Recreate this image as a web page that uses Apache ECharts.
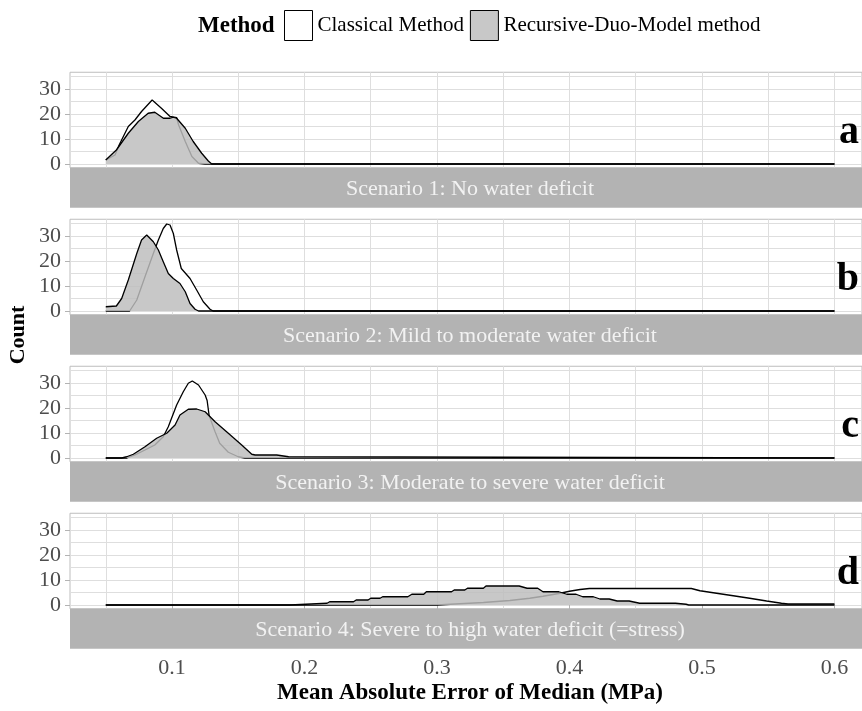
<!DOCTYPE html>
<html>
<head>
<meta charset="utf-8">
<script src="https://cdn.jsdelivr.net/npm/echarts@6/dist/echarts.min.js"></script>
<style>
html,body{margin:0;padding:0;background:#fff;}
#chart{width:862px;height:711px;}
</style>
</head>
<body>
<div id="chart"></div>
<script>
// ---------- data ----------
const methods = ['Classical Method', 'Recursive-Duo-Model method'];
const scenarios = [
  'Scenario 1: No water deficit',
  'Scenario 2: Mild to moderate water deficit',
  'Scenario 3: Moderate to severe water deficit',
  'Scenario 4: Severe to high water deficit (=stress)'
];
const panelLetters = ['a', 'b', 'c', 'd'];
const xTickValues = [0.1, 0.2, 0.3, 0.4, 0.5, 0.6];
const xGridValues = [0.05, 0.1, 0.15, 0.2, 0.25, 0.3, 0.35, 0.4, 0.45, 0.5, 0.55, 0.6];
const yTickValues = [0, 10, 20, 30];
const yGridValues = [0, 5, 10, 15, 20, 25, 30, 35];

// Scenario 1
const classical1 = [[0.05,1.6],[0.057,3.6],[0.06,7.5],[0.067,15],[0.072,17.6],[0.077,21],[0.085,25.6],[0.092,22.3],[0.0985,19],[0.1035,18.5],[0.105,15.6],[0.11,9],[0.115,3],[0.12,0.3],[0.125,0],[0.6,0]];
const recursive1 = [[0.05,1.6],[0.058,5.6],[0.067,12.3],[0.0746,17],[0.082,20.3],[0.087,20.7],[0.0935,18.3],[0.0985,18.3],[0.101,18.7],[0.1035,18.3],[0.11,14.3],[0.116,9],[0.1224,4.3],[0.1274,1.2],[0.13,0],[0.6,0]];
// Scenario 2
const classical2 = [[0.05,0],[0.068,0],[0.0734,4.4],[0.0796,13.7],[0.0859,23],[0.0897,28.4],[0.0934,33],[0.096,34.8],[0.0985,34.4],[0.101,31],[0.1035,24.4],[0.107,17],[0.1136,13],[0.1186,8.4],[0.1236,3.7],[0.1287,0.7],[0.131,0],[0.6,0]];
const recursive2 = [[0.05,1.7],[0.058,2],[0.062,5],[0.067,12.4],[0.0734,23],[0.077,28.4],[0.0809,30.4],[0.0859,27.7],[0.0897,24.4],[0.0934,19.7],[0.0972,15],[0.101,13],[0.106,11],[0.11,7.7],[0.1136,3],[0.1174,0.7],[0.12,0],[0.6,0]];
// Scenario 3
const classical3 = [[0.05,0],[0.066,0],[0.072,1.2],[0.0796,3.2],[0.087,5.2],[0.0934,8.5],[0.0972,12.5],[0.1035,21.2],[0.1085,26.5],[0.1123,29.9],[0.1153,30.8],[0.12,29.2],[0.125,25.2],[0.1265,23],[0.128,17],[0.1325,10.5],[0.136,5.9],[0.1425,2.3],[0.15,0.5],[0.155,0],[0.6,0]];
const recursive3 = [[0.05,0],[0.062,0],[0.0658,0.5],[0.0708,1.5],[0.0796,4.5],[0.0884,7.9],[0.096,9.9],[0.1023,13.2],[0.106,17.2],[0.1123,19.5],[0.1186,19.6],[0.125,18.5],[0.1325,14.5],[0.1425,9.9],[0.1526,5.2],[0.1602,1.5],[0.1627,1.2],[0.179,1.2],[0.18,0.5],[0.188,0.5],[0.189,0],[0.6,0]];
// Scenario 4
const classical4 = [[0.05,0],[0.3,0],[0.31,0.3],[0.335,1],[0.355,1.8],[0.37,2.7],[0.38,3.5],[0.393,4.7],[0.4,5.5],[0.408,6.2],[0.415,6.6],[0.492,6.6],[0.4985,5.7],[0.511,4.7],[0.5236,3.7],[0.536,2.7],[0.5488,1.6],[0.56,0.7],[0.565,0.4],[0.6,0.4]];
const recursive4 = [[0.05,0],[0.189,0],[0.19,0.7],[0.217,0.7],[0.219,1.3],[0.237,1.3],[0.239,2],[0.248,2],[0.25,2.7],[0.257,2.7],[0.259,3.3],[0.278,3.3],[0.281,4.3],[0.29,4.3],[0.292,5.3],[0.311,5.3],[0.313,6],[0.321,6],[0.323,6.7],[0.335,6.7],[0.337,7.6],[0.362,7.6],[0.368,6.7],[0.376,6.7],[0.38,5.3],[0.392,5.3],[0.398,4.3],[0.405,4.3],[0.41,3.3],[0.418,3.3],[0.423,2.4],[0.43,2.4],[0.436,1.6],[0.445,1.6],[0.453,0.7],[0.48,0.7],[0.488,0.3],[0.49,0],[0.6,0]];

const classicalSets = [classical1, classical2, classical3, classical4];
const recursiveSets = [recursive1, recursive2, recursive3, recursive4];

// ---------- layout / style ----------
const SERIF = "'Liberation Serif', 'DejaVu Serif', serif";
const GRID_LEFT = 70, GRID_W = 792, PANEL_H = 95.5, STRIP_H = 40, FIRST_TOP = 72.25, STEP = 147;
const X_MIN = 0.023, X_MAX = 0.6208, Y_MIN = -1.5, Y_MAX = 36.7;

const grids = [], xAxes = [], yAxes = [], series = [], graphics = [];
for (let i = 0; i < 4; i++) {
  const top = FIRST_TOP + i * STEP;
  const last = i === 3;
  grids.push({left: GRID_LEFT, top: top, width: GRID_W, height: PANEL_H, show: true,
    containLabel: false, outerBoundsMode: 'none',
    backgroundColor: '#ffffff', borderColor: '#bdbdbd', borderWidth: 1});
  // grid-line axis
  xAxes.push({gridIndex: i, type: 'value', min: X_MIN, max: X_MAX, position: 'bottom',
    axisLine: {show: false}, axisLabel: {show: false},
    axisTick: {show: false, customValues: xGridValues},
    splitLine: {show: true, lineStyle: {color: '#dedede', width: 1}}});
  // label axis
  xAxes.push({gridIndex: i, type: 'value', min: X_MIN, max: X_MAX, position: 'bottom', offset: last ? STRIP_H : 0,
    axisLine: {show: false},
    axisTick: {show: last, customValues: xTickValues, length: 5, lineStyle: {color: '#b3b3b3', width: 1}},
    axisLabel: {show: last, customValues: xTickValues, margin: 8, color: '#4d4d4d', fontSize: 22, fontFamily: SERIF},
    splitLine: {show: false}});
  yAxes.push({gridIndex: i, type: 'value', min: Y_MIN, max: Y_MAX, position: 'left',
    axisLine: {show: false}, axisLabel: {show: false},
    axisTick: {show: false, customValues: yGridValues},
    splitLine: {show: true, lineStyle: {color: '#dedede', width: 1}}});
  yAxes.push({gridIndex: i, type: 'value', min: Y_MIN, max: Y_MAX, position: 'left', offset: 0,
    axisLine: {show: false},
    axisTick: {show: true, customValues: yTickValues, length: 5, lineStyle: {color: '#b3b3b3', width: 1}},
    axisLabel: {show: true, customValues: yTickValues, margin: 9, color: '#4d4d4d', fontSize: 22, fontFamily: SERIF},
    splitLine: {show: false}});

  series.push({name: methods[0], type: 'line', xAxisIndex: 2 * i, yAxisIndex: 2 * i, z: 2,
    data: classicalSets[i], symbol: 'none', smooth: false, silent: true,
    lineStyle: {color: '#000000', width: 1.3},
    itemStyle: {color: '#ffffff', borderColor: '#000000'},
    areaStyle: {color: '#ffffff', opacity: 1}});
  series.push({name: methods[1], type: 'line', xAxisIndex: 2 * i, yAxisIndex: 2 * i, z: 3,
    data: recursiveSets[i], symbol: 'none', smooth: false, silent: true,
    lineStyle: {color: '#000000', width: 1.3},
    itemStyle: {color: '#c8c8c8', borderColor: '#000000'},
    areaStyle: {color: 'rgba(190,190,190,0.84)', opacity: 1}});

  // strip
  const stripTop = top + PANEL_H;
  graphics.push({type: 'rect', z: 10, shape: {x: GRID_LEFT, y: stripTop, width: GRID_W, height: STRIP_H},
    style: {fill: '#b3b3b3'}});
  graphics.push({type: 'text', z: 11, x: 470, y: stripTop + STRIP_H / 2 + 1,
    style: {text: scenarios[i], fill: '#f2f2f2', font: '22px ' + SERIF, align: 'center', verticalAlign: 'middle'}});
  // panel letter
  graphics.push({type: 'text', z: 11, x: 859, y: top + 40,
    style: {text: panelLetters[i], fill: '#000', font: 'bold 40px ' + SERIF, align: 'right', verticalAlign: 'alphabetic'}});
}

graphics.push({type: 'text', z: 11, x: 198, y: 26,
  style: {text: 'Method', fill: '#000', font: 'bold 23px ' + SERIF, align: 'left', verticalAlign: 'middle'}});
graphics.push({type: 'text', z: 11, x: 470, y: 693,
  style: {text: 'Mean Absolute Error of Median (MPa)', fill: '#000', font: 'bold 23px ' + SERIF, align: 'center', verticalAlign: 'middle'}});
graphics.push({type: 'text', z: 11, x: 18, y: 335, rotation: Math.PI / 2,
  style: {text: 'Count', fill: '#000', font: 'bold 22px ' + SERIF, align: 'center', verticalAlign: 'middle'}});

const chart = echarts.init(document.getElementById('chart'), null, {renderer: 'canvas'});
chart.setOption({
  animation: false,
  backgroundColor: '#ffffff',
  legend: {
    left: 284, top: 10, padding: 0, icon: 'rect', itemWidth: 28, itemHeight: 30, itemGap: 6, selectedMode: false,
    textStyle: {fontFamily: SERIF, fontSize: 21, color: '#000'},
    data: [
      {name: methods[0], itemStyle: {color: '#ffffff', borderColor: '#000000', borderWidth: 1}},
      {name: methods[1], itemStyle: {color: '#c8c8c8', borderColor: '#000000', borderWidth: 1}}
    ]
  },
  grid: grids,
  xAxis: xAxes,
  yAxis: yAxes,
  series: series,
  graphic: graphics
});
</script>
</body>
</html>
